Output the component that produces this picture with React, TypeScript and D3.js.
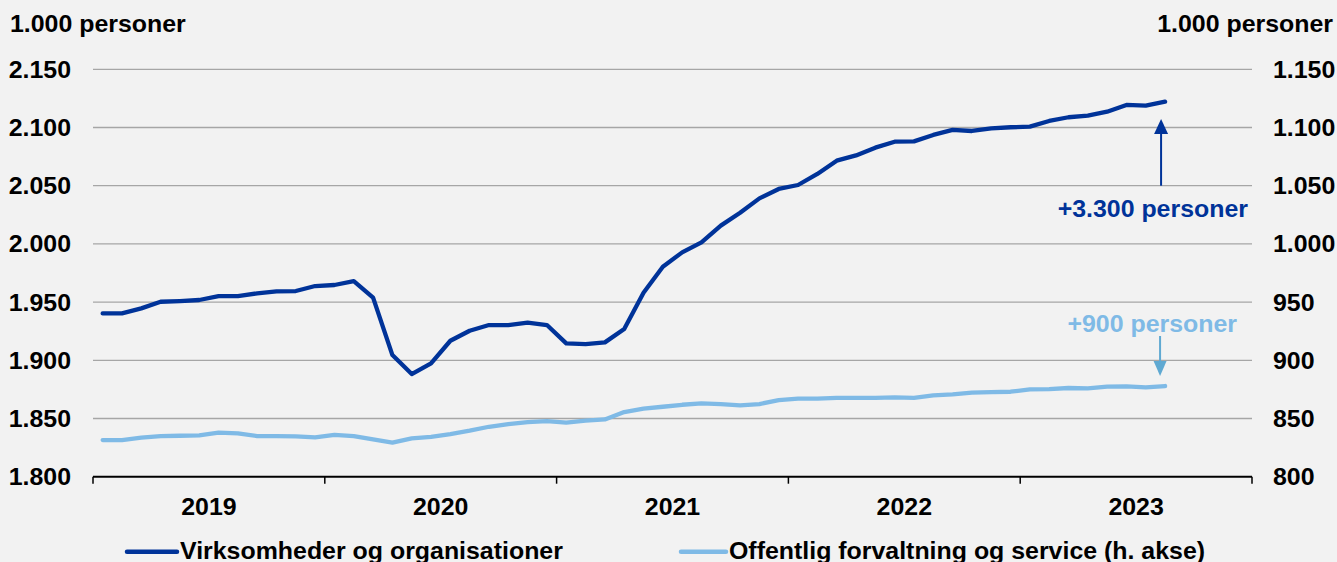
import React from "react";
import * as d3 from "d3";

const years = ["2019", "2020", "2021", "2022", "2023"];
const leftTicks = [1800, 1850, 1900, 1950, 2000, 2050, 2100, 2150];
const rightTicks = [800, 850, 900, 950, 1000, 1050, 1100, 1150];

// Monthly, Jan 2019 – Aug 2023 (1.000 personer)
const virksomheder = [
  1940.3, 1940.3, 1944.6, 1950.3, 1950.9, 1951.8, 1955.2, 1955.2, 1957.5, 1959.2, 1959.5, 1963.8,
  1964.7, 1968.1, 1953.8, 1904.5, 1888.2, 1897.4, 1916.8, 1925.4, 1930.3, 1930.3, 1932.3, 1930.3,
  1914.5, 1913.9, 1915.4, 1926.9, 1958.1, 1980.4, 1992.7, 2001.3, 2015.7, 2026.8, 2039.1, 2047.2,
  2050.6, 2060.1, 2071.5, 2076.0, 2082.7, 2087.8, 2088.1, 2093.6, 2097.9, 2097.0, 2099.3, 2100.2,
  2100.7, 2105.6, 2108.8, 2110.2, 2113.6, 2119.4, 2118.8, 2122.2,
];
const offentlig = [
  831.5, 831.5, 833.5, 834.9, 835.2, 835.5, 837.8, 837.2, 834.9, 834.9, 834.6, 833.8,
  836.0, 834.9, 832.0, 829.2, 832.9, 834.3, 836.6, 839.5, 842.9, 845.2, 846.9, 847.8,
  846.4, 848.1, 849.2, 855.5, 858.4, 860.1, 861.8, 863.0, 862.4, 861.3, 862.4, 865.8,
  867.0, 867.0, 867.8, 867.8, 867.8, 868.1, 867.8, 869.9, 870.7, 872.2, 872.7, 873.0,
  875.0, 875.3, 876.2, 875.9, 877.3, 877.6, 876.7, 877.9,
];
const seriesNames = ["Virksomheder og organisationer", "Offentlig forvaltning og service (h. akse)"];
const unitLabel = "1.000 personer";
const annotDark = "+3.300 personer";
const annotLight = "+900 personer";

const W = 1337;
const H = 562;
const DARK = "#003399";
const LIGHT = "#7fbae6";
const LIGHT_ARROW = "#5fa9d2";
const FONT = "'Liberation Sans', Arial, sans-serif";
const FS = 24;
const SX = 1.038;

type TProps = {
  x: number;
  y: number;
  anchor?: "start" | "middle" | "end";
  fill?: string;
  dy?: string;
  children: React.ReactNode;
};

function T({ x, y, anchor = "start", fill = "#000", dy, children }: TProps) {
  return (
    <text
      transform={`translate(${x},${y}) scale(${SX},1)`}
      dy={dy}
      textAnchor={anchor}
      fontSize={FS}
      fontWeight="bold"
      fill={fill}
    >
      {children}
    </text>
  );
}

const fmt = (t: number) => d3.format(",")(t).replace(",", ".");

export default function App() {
  React.useEffect(() => {
    document.body.style.margin = "0";
  }, []);

  const x = d3.scaleLinear().domain([0, 60]).range([93, 1252]);
  const yL = d3.scaleLinear().domain([1800, 2150]).range([476.7, 69.3]);
  const yR = d3.scaleLinear().domain([800, 1150]).range([476.7, 69.3]);

  const lineL = d3
    .line<number>()
    .x((_, i) => x(i + 0.5))
    .y((d) => yL(d));
  const lineR = d3
    .line<number>()
    .x((_, i) => x(i + 0.5))
    .y((d) => yR(d));

  const lastIdx = virksomheder.length - 1;
  const ax = x(lastIdx + 0.5) - 4;

  return (
    <svg width={W} height={H} style={{ display: "block", position: "absolute", left: 0, top: 0 }} fontFamily={FONT}>
      <rect x={0} y={0} width={W} height={H} fill="#f2f2f2" />
      {/* gridlines */}
      {leftTicks.slice(1).map((t) => (
        <line key={t} x1={x(0)} x2={x(60)} y1={yL(t)} y2={yL(t)} stroke="#a6a6a6" strokeWidth={1.3} />
      ))}
      {/* axis */}
      <line x1={x(0)} x2={x(60)} y1={yL(1800)} y2={yL(1800)} stroke="#000" strokeWidth={2} />
      {d3.range(0, 61, 12).map((m) => (
        <line key={m} x1={x(m)} x2={x(m)} y1={yL(1800)} y2={yL(1800) + 7} stroke="#000" strokeWidth={1.5} />
      ))}
      {years.map((yr, i) => (
        <T key={yr} x={x(i * 12 + 6)} y={515} anchor="middle">
          {yr}
        </T>
      ))}
      {/* left ticks */}
      {leftTicks.map((t) => (
        <T key={t} x={71} y={yL(t)} dy="0.35em" anchor="end">
          {fmt(t)}
        </T>
      ))}
      {/* right ticks */}
      {rightTicks.map((t) => (
        <T key={t} x={1273} y={yR(t)} dy="0.35em" anchor="start">
          {fmt(t)}
        </T>
      ))}
      <T x={10} y={31.5}>
        {unitLabel}
      </T>
      <T x={1333} y={31.5} anchor="end">
        {unitLabel}
      </T>
      {/* lines */}
      <path d={lineR(offentlig) || ""} fill="none" stroke={LIGHT} strokeWidth={4.3} strokeLinejoin="round" strokeLinecap="round" />
      <path d={lineL(virksomheder) || ""} fill="none" stroke={DARK} strokeWidth={4.3} strokeLinejoin="round" strokeLinecap="round" />
      {/* annotations */}
      <line x1={ax} x2={ax} y1={yL(2050)} y2={yL(2104)} stroke={DARK} strokeWidth={2} />
      <path d={`M${ax},${yL(2107.3)} L${ax - 7},${yL(2094.5)} L${ax + 7},${yL(2094.5)} Z`} fill={DARK} />
      <T x={1248} y={216.5} anchor="end" fill={DARK}>
        {annotDark}
      </T>
      <line x1={ax - 1} x2={ax - 1} y1={336} y2={364} stroke={LIGHT_ARROW} strokeWidth={2} />
      <path d={`M${ax - 1},${376} L${ax - 7.5},${361} L${ax + 5.5},${361} Z`} fill={LIGHT_ARROW} />
      <T x={1237} y={331.5} anchor="end" fill={LIGHT}>
        {annotLight}
      </T>
      {/* legend */}
      <line x1={127} x2={177} y1={551.7} y2={551.7} stroke={DARK} strokeWidth={4.5} strokeLinecap="round" />
      <T x={180} y={559}>
        {seriesNames[0]}
      </T>
      <line x1={681} x2={726} y1={551.7} y2={551.7} stroke={LIGHT} strokeWidth={4.5} strokeLinecap="round" />
      <T x={729} y={559}>
        {seriesNames[1]}
      </T>
    </svg>
  );
}
